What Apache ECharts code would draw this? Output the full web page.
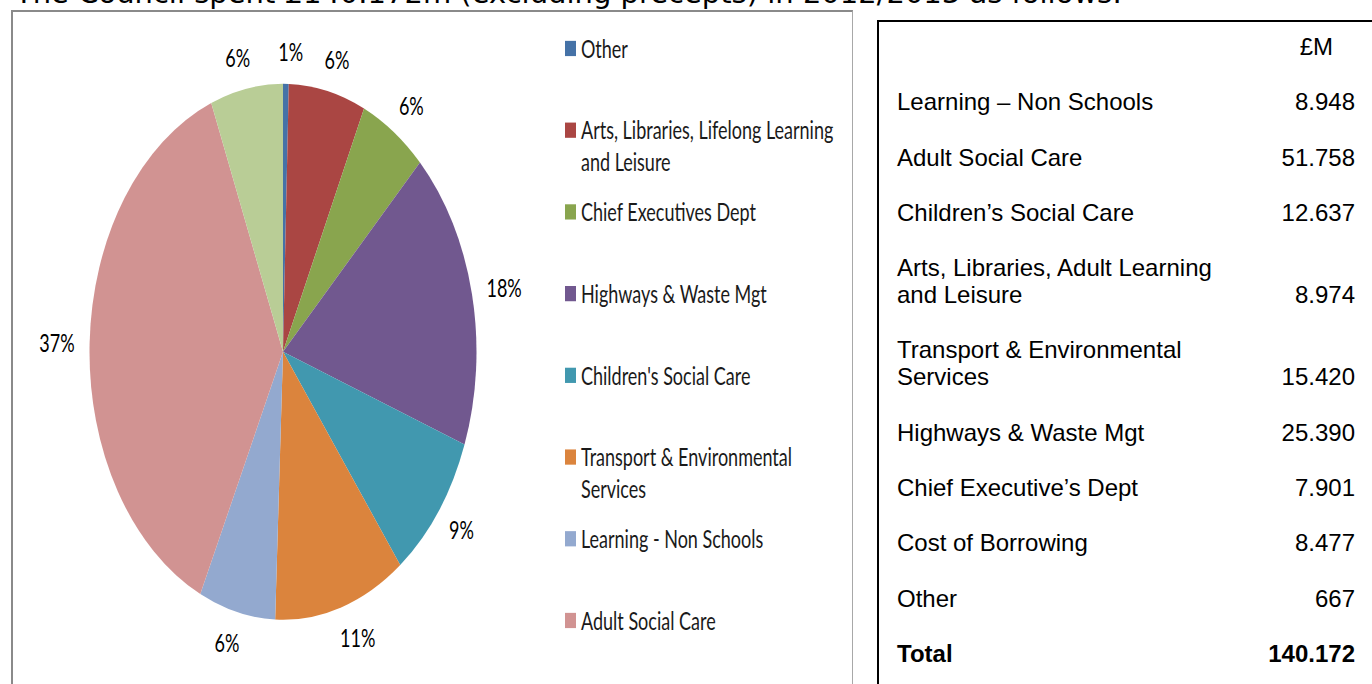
<!DOCTYPE html>
<html>
<head>
<meta charset="utf-8">
<script src="https://cdn.jsdelivr.net/npm/echarts@6/dist/echarts.min.js"></script>
<style>
html, body { margin: 0; padding: 0; width: 1372px; height: 684px; overflow: hidden; background: #fff; }
#intro { position: absolute; left: 15px; top: -24px; font-family: "DejaVu Sans"; font-size: 29px; line-height: 34px; white-space: nowrap; color: #000; }
#frame { position: absolute; left: 11px; top: 10px; width: 839px; height: 720px; border-top: 2px solid #8a8a8a; border-left: 2px solid #8a8a8a; border-right: 1px solid #a8a8a8; }
#pie { position: absolute; left: 0; top: 0; width: 860px; height: 494px; transform: scaleY(1.385); transform-origin: 0 0; }
#box { position: absolute; left: 877px; top: 20px; width: 520px; height: 700px; border-top: 2px solid #000; border-left: 2px solid #000; }
#box table { border-collapse: collapse; width: 476px; font-family: "Liberation Sans", Arial, sans-serif; font-size: 24px; color: #000; }
#box td { padding: 28.3px 0 0 0; line-height: 27px; vertical-align: bottom; white-space: pre-line; }
#box td.lbl { padding-left: 18px; }
#box td.val { text-align: right; }
#box tr.head td { padding-top: 11px; }
#box tr.head td.val { padding-right: 22px; }
#box tr.total td { font-weight: bold; }
</style>
</head>
<body>
<div id="intro">The Council spent £140.172m (excluding precepts) in 2012/2013 as follows:</div>
<div id="frame"></div>
<div id="pie"></div>
<div id="box"><table id="tbl"></table></div>
<script>
// pie slices, clockwise from 12 o'clock (£M)
var sliceNames = ['Other', 'Arts, Libraries, Lifelong Learning\nand Leisure', 'Chief Executives Dept',
    'Highways & Waste Mgt', "Children's Social Care", 'Transport & Environmental\nServices',
    'Learning - Non Schools', 'Adult Social Care', 'Cost of Borrowing'];
var sliceValues = [0.667, 8.974, 7.901, 25.390, 12.637, 15.420, 8.948, 51.758, 8.477];
var sliceColors = ['#4572A7', '#AA4643', '#89A54E', '#71588F', '#4198AF', '#DB843D', '#93A9CF', '#D19392', '#B9CD96'];
// legend shows the first 8 only, the last one is cut off in the original
var legendNames = sliceNames.slice(0, 8);

// table on the right
var tableHead = '£M';
var tableLabels = ['Learning – Non Schools', 'Adult Social Care', 'Children’s Social Care',
    'Arts, Libraries, Adult Learning\nand Leisure', 'Transport & Environmental\nServices',
    'Highways & Waste Mgt', 'Chief Executive’s Dept', 'Cost of Borrowing', 'Other'];
var tableValues = ['8.948', '51.758', '12.637', '8.974', '15.420', '25.390', '7.901', '8.477', '667'];
var totalLabel = 'Total';
var totalValue = '140.172';

var tbl = document.getElementById('tbl');
function addRow(cls, a, b) {
    var tr = document.createElement('tr');
    if (cls) tr.className = cls;
    var td1 = document.createElement('td');
    td1.className = 'lbl';
    td1.textContent = a;
    var td2 = document.createElement('td');
    td2.className = 'val';
    td2.textContent = b;
    tr.appendChild(td1);
    tr.appendChild(td2);
    tbl.appendChild(tr);
}
addRow('head', '', tableHead);
for (var i = 0; i < tableLabels.length; i++) {
    addRow('', tableLabels[i], tableValues[i]);
}
addRow('total', totalLabel, totalValue);

var pieData = [];
for (var i = 0; i < sliceNames.length; i++) {
    pieData.push({ name: sliceNames[i], value: sliceValues[i], itemStyle: { color: sliceColors[i] } });
}

var chart = echarts.init(document.getElementById('pie'), null, { renderer: 'svg' });
var font = 'Lato';
chart.setOption({
    animation: false,
    legend: {
        orient: 'vertical',
        left: 565,
        top: 26,
        padding: 0,
        itemGap: 18,
        itemWidth: 11,
        itemHeight: 11,
        icon: 'rect',
        selectedMode: false,
        data: legendNames,
        formatter: function (name) {
            var lines = name.split('\n');
            if (lines.length < 2) lines.push('\u00a0');
            return lines.map(function (s) { return '{n|' + s + '}'; }).join('\n');
        },
        textStyle: {
            height: 23,
            rich: {
                n: { fontFamily: font, fontSize: 18, lineHeight: 23, color: '#1a1a1a' }
            }
        }
    },
    series: [
        {
            type: 'pie',
            center: [283, 254],
            radius: 193.5,
            startAngle: 90,
            clockwise: true,
            avoidLabelOverlap: false,
            percentPrecision: 0,
            silent: true,
            itemStyle: { borderWidth: 0 },
            label: {
                show: true,
                position: 'outside',
                formatter: '{d}%',
                fontFamily: font,
                fontSize: 18,
                color: '#000',
                distanceToLabelLine: -8
            },
            labelLine: { show: false, length: 23, length2: 0 },
            data: pieData
        }
    ]
});
</script>
</body>
</html>
